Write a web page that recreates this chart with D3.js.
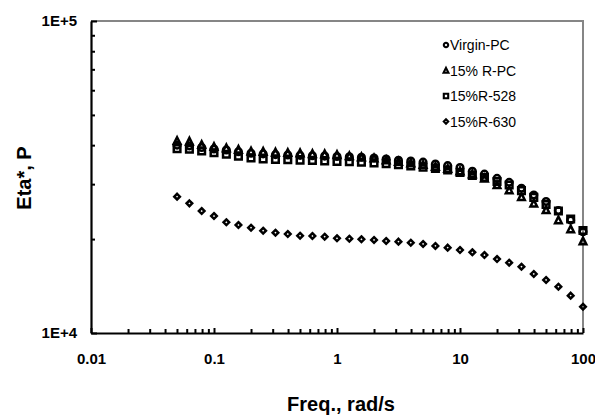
<!DOCTYPE html>
<html>
<head>
<meta charset="utf-8">
<script src="https://cdn.jsdelivr.net/npm/d3@7"></script>
<style>
  body { margin: 0; background: #fff; }
  svg { display: block; font-family: "Liberation Sans", Arial, sans-serif; }
</style>
</head>
<body>
<div class="visHolder"></div>
<script>
// ========================================
// Data
// ========================================
const freq = [0.0501, 0.0631, 0.0794, 0.1, 0.126, 0.158, 0.2, 0.251, 0.316, 0.398,
  0.501, 0.631, 0.794, 1, 1.26, 1.58, 2, 2.51, 3.16, 3.98,
  5.01, 6.31, 7.94, 10, 12.6, 15.8, 20, 25.1, 31.6, 39.8,
  50.1, 63.1, 79.4, 100];

const virginPC = [40000, 39800, 39300, 38900, 38600, 38100, 37700, 37500, 37300, 37200,
  37100, 37000, 36900, 36800, 36700, 36600, 36400, 36100, 35800, 35600,
  35300, 34800, 34400, 33900, 33000, 32300, 31300, 30400, 29100, 27700,
  26400, 24700, 23000, 21100];

const rPC15 = [41300, 41100, 40100, 39500, 39100, 38700, 38200, 38100, 37900, 37800,
  37700, 37500, 37400, 37200, 36900, 36600, 36300, 35800, 35400, 35000,
  34600, 34100, 33600, 33000, 32300, 31300, 29800, 28700, 27300, 26000,
  24800, 23000, 21500, 19700];

const r528 = [39000, 38800, 38300, 37800, 37400, 36900, 36400, 36100, 36000, 35900,
  35800, 35700, 35600, 35500, 35400, 35300, 35100, 34900, 34600, 34300,
  34000, 33700, 33300, 32700, 32000, 31500, 30600, 29800, 28600, 27200,
  25800, 24600, 23200, 21300];

const r630 = [27350, 26040, 24600, 23710, 22640, 22190, 21750, 21270, 20960, 20760,
  20500, 20460, 20350, 20120, 20050, 19970, 19870, 19720, 19620, 19470,
  19290, 19010, 18770, 18450, 18140, 17780, 17260, 16800, 16310, 15460,
  14790, 14070, 13170, 12140];

const seriesNames = ['Virgin-PC', '15% R-PC', '15%R-528', '15%R-630'];
const seriesShapes = ['circle', 'triangle', 'square', 'diamond'];
const xTicks = [0.01, 0.1, 1, 10, 100];
const xTickLabels = ['0.01', '0.1', '1', '10', '100'];
const yTicks = [1e4, 1e5];
const yTickLabels = ['1E+4', '1E+5'];
const xLabel = 'Freq., rad/s';
const yLabel = 'Eta*, P';

// ========================================
// Dimensions (plot frame edges)
// ========================================
const
  width = 595,
  height = 417,
  plotLeft = 91,
  plotRight = 583,
  plotTop = 21,
  plotBottom = 333;

const svg = d3.select('.visHolder')
  .append('svg')
    .attr('width', width)
    .attr('height', height);

const xScale = d3.scaleLog().domain([0.01, 100]).range([plotLeft, plotRight]);
const yScale = d3.scaleLog().domain([1e4, 1e5]).range([plotBottom, plotTop]);

// minor ticks 2..9 within each decade
const xMinor = [];
[0.01, 0.1, 1, 10].forEach(d => { for (let k = 2; k <= 9; k++) xMinor.push(k * d); });
const yMinor = [];
for (let k = 2; k <= 9; k++) yMinor.push(k * 1e4);

// ========================================
// Frame: gray top / right
// ========================================
svg.append('path')
  .attr('d', `M${plotLeft},${plotTop}H${plotRight}V${plotBottom}`)
  .attr('fill', 'none')
  .attr('stroke', '#868686')
  .attr('stroke-width', 2);

// ========================================
// X axis (ticks point inward)
// ========================================
const xMinorAxis = svg.append('g')
  .attr('transform', `translate(0,${plotBottom})`)
  .call(d3.axisBottom(xScale).tickValues(xMinor).tickSize(-4).tickSizeOuter(0).tickFormat(''));
xMinorAxis.select('.domain').remove();

const xAxis = svg.append('g')
  .attr('transform', `translate(0,${plotBottom})`)
  .call(d3.axisBottom(xScale).tickValues(xTicks).tickSize(-5).tickSizeOuter(0)
    .tickPadding(20).tickFormat((d, i) => xTickLabels[i]));

// ========================================
// Y axis
// ========================================
const yMinorAxis = svg.append('g')
  .attr('transform', `translate(${plotLeft},0)`)
  .call(d3.axisLeft(yScale).tickValues(yMinor).tickSize(-4).tickSizeOuter(0).tickFormat(''));
yMinorAxis.select('.domain').remove();

const yAxis = svg.append('g')
  .attr('transform', `translate(${plotLeft},0)`)
  .call(d3.axisLeft(yScale).tickValues(yTicks).tickSize(-6).tickSizeOuter(0)
    .tickPadding(14).tickFormat((d, i) => yTickLabels[i]));

svg.selectAll('.tick line').attr('stroke', '#000').attr('stroke-width', 2);
[xAxis, yAxis].forEach(a => {
  a.select('.domain').attr('stroke', '#000').attr('stroke-width', 2.2);
  a.selectAll('text')
    .attr('fill', '#000')
    .style('font-size', '15px')
    .style('font-weight', 'bold')
    .style('font-family', '"Liberation Sans", Arial, sans-serif');
});

// ========================================
// Axis titles
// ========================================
svg.append('text')
  .attr('x', 341)
  .attr('y', 411)
  .attr('text-anchor', 'middle')
  .style('font-size', '20px')
  .style('font-weight', 'bold')
  .text(xLabel);

svg.append('text')
  .attr('transform', 'translate(31,178) rotate(-90)')
  .attr('text-anchor', 'middle')
  .style('font-size', '20px')
  .style('font-weight', 'bold')
  .text(yLabel);

// ========================================
// Marker shapes (hollow, heavy outline like the spreadsheet markers)
// ========================================
function marker(shape, s) {
  const p = d3.path();
  if (shape === 'circle') {
    p.moveTo(s, 0); p.arc(0, 0, s, 0, 2 * Math.PI);
  } else if (shape === 'square') {
    p.rect(-s, -s, 2 * s, 2 * s);
  } else if (shape === 'triangle') {
    p.moveTo(0, -s * 1.2); p.lineTo(s * 1.1, s); p.lineTo(-s * 1.1, s); p.closePath();
  } else {
    p.moveTo(0, -s); p.lineTo(s, 0); p.lineTo(0, s); p.lineTo(-s, 0); p.closePath();
  }
  return p.toString();
}

const allSeries = [virginPC, rPC15, r528, r630];
const markerSize = [3.3, 3.0, 3.3, 2.8];

allSeries.forEach((values, si) => {
  svg.append('g')
    .selectAll('path')
    .data(values)
    .enter()
    .append('path')
      .attr('transform', (d, i) => `translate(${xScale(freq[i])},${yScale(d)})`)
      .attr('d', marker(seriesShapes[si], markerSize[si]))
      .attr('fill', 'none')
      .attr('stroke', '#000')
      .attr('stroke-width', 2.5);
});

// ========================================
// Legend
// ========================================
const legend = svg.append('g')
  .selectAll('g')
  .data(seriesNames)
  .enter()
  .append('g')
    .attr('transform', (d, i) => `translate(446,${45 + i * 25.5})`);

legend.append('path')
  .attr('d', (d, i) => marker(seriesShapes[i], 2.2))
  .attr('fill', 'none')
  .attr('stroke', '#000')
  .attr('stroke-width', 2.1);

legend.append('text')
  .attr('x', 4)
  .attr('y', 5)
  .style('font-size', '14px')
  .text(d => d);
</script>
</body>
</html>
